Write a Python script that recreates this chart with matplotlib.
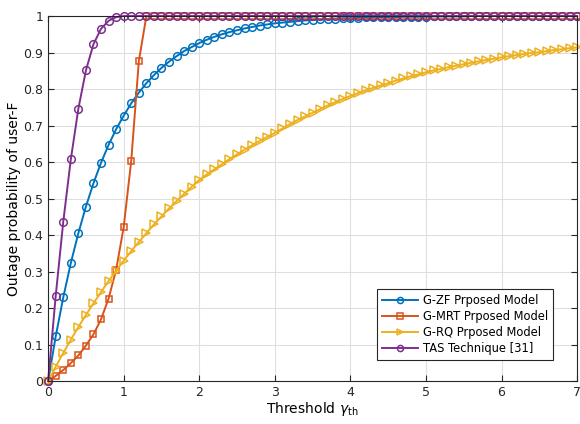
import numpy as np
import matplotlib
matplotlib.use("Agg")
import matplotlib.pyplot as plt

# threshold values (step 0.1 from 0 to 7)
gamma_th = np.round(np.arange(0, 71) * 0.1, 1)

# G-ZF proposed model
g_zf = [0, 0.122, 0.229, 0.323, 0.405, 0.478, 0.542, 0.598, 0.647, 0.690,
        0.727, 0.761, 0.790, 0.816, 0.838, 0.858, 0.875, 0.890, 0.904, 0.915,
        0.926, 0.935, 0.943, 0.950, 0.956, 0.961, 0.966, 0.970, 0.974, 0.977,
        0.980, 0.982, 0.984, 0.986, 0.988, 0.989, 0.991, 0.992, 0.993, 0.994,
        0.994, 0.995, 0.996, 0.996, 0.997, 0.997, 0.997, 0.998, 0.998, 0.998,
        0.998, 0.999, 0.999, 0.999, 0.999, 0.999] + [1.0] * 15

# G-MRT proposed model
g_mrt = [0, 0.014, 0.030, 0.049, 0.070, 0.097, 0.128, 0.169, 0.226, 0.305,
         0.422, 0.604, 0.876] + [1.0] * 58

# G-RQ proposed model
g_rq = [0, 0.039, 0.077, 0.113, 0.148, 0.181, 0.213, 0.244, 0.274, 0.302,
        0.330, 0.356, 0.381, 0.405, 0.429, 0.451, 0.473, 0.493, 0.513, 0.532,
        0.551, 0.566, 0.580, 0.594, 0.608, 0.621, 0.634, 0.646, 0.658, 0.669,
        0.680, 0.692, 0.704, 0.715, 0.725, 0.735, 0.745, 0.755, 0.764, 0.773,
        0.781, 0.789, 0.796, 0.803, 0.810, 0.816, 0.823, 0.829, 0.835, 0.840,
        0.846, 0.851, 0.855, 0.860, 0.864, 0.868, 0.872, 0.876, 0.880, 0.883,
        0.887, 0.890, 0.893, 0.896, 0.899, 0.901, 0.904, 0.907, 0.909, 0.912,
        0.914]

# TAS technique [31]
tas = [0, 0.233, 0.436, 0.607, 0.746, 0.851, 0.923, 0.965, 0.987, 0.997] + [1.0] * 61

labels = ["G-ZF Prposed Model", "G-MRT Prposed Model", "G-RQ Prposed Model", "TAS Technique [31]"]
colours = ["#0072BD", "#D95319", "#EDB120", "#7E2F8E"]
markers = ["o", "s", ">", "o"]
msizes = [5.5, 4.8, 5.5, 5.5]

fig = plt.figure(figsize=(5.8, 4.24), dpi=100)
ax = fig.add_axes([0.083, 0.1014, 0.912, 0.8608])

for y, lab, c, m, ms in zip([g_zf, g_mrt, g_rq, tas], labels, colours, markers, msizes):
    ax.plot(gamma_th, y, color=c, marker=m, markersize=ms, markerfacecolor="none",
            markeredgewidth=1.1, linewidth=1.4, label=lab, clip_on=False)

ax.set_xlim(0, 7)
ax.set_ylim(0, 1)
ax.set_xticks(range(0, 8))
ax.set_yticks(np.round(np.arange(0, 1.01, 0.1), 1))
ax.set_yticklabels(["0", "0.1", "0.2", "0.3", "0.4", "0.5", "0.6", "0.7", "0.8", "0.9", "1"])
ax.grid(True, color="#dfdfdf", linewidth=0.8)
ax.set_axisbelow(True)
ax.tick_params(direction="in", top=True, right=True, length=4, labelsize=9, width=0.8,
               colors="#262626")
for s in ax.spines.values():
    s.set_color("#262626")
    s.set_linewidth(0.8)

ax.set_xlabel(r"Threshold $\gamma_{\rm th}$", fontsize=10, labelpad=1)
ax.set_ylabel("Outage probability of user-F", fontsize=10, labelpad=2)

leg = ax.legend(loc="lower right", bbox_to_anchor=(0.965, 0.043), fontsize=8.3,
                fancybox=False, edgecolor="#262626", framealpha=1, markerscale=0.8,
                handlelength=3.2, borderpad=0.4, labelspacing=0.26, handletextpad=0.4)
leg.get_frame().set_linewidth(0.8)

fig.savefig("out.png", dpi=100)
